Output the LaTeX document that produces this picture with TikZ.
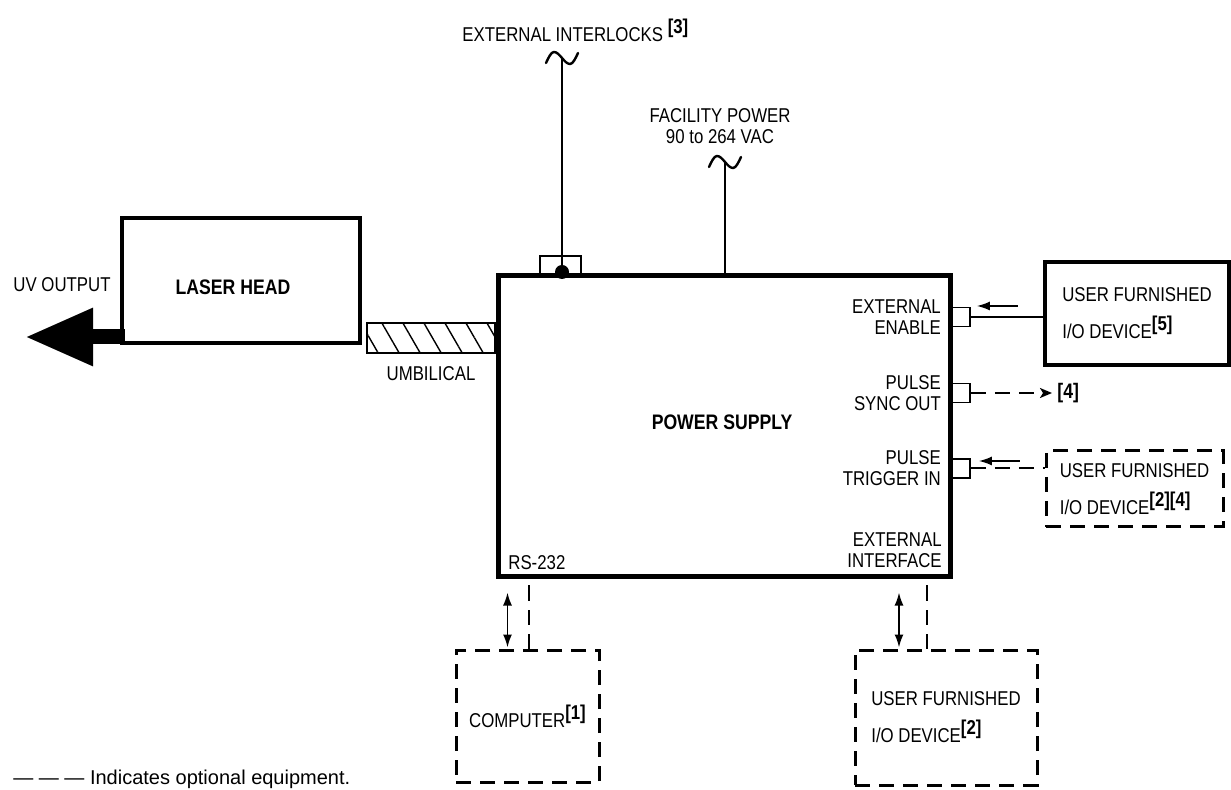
\documentclass[tikz,border=0pt]{standalone}
\usepackage{fontspec}
\setmainfont{Liberation Sans}[FakeStretch=0.84]
\newfontfamily\legendfont{Liberation Sans}
\usetikzlibrary{arrows,arrows.meta,positioning,calc,patterns.meta}
\newcommand\refmark[1]{\raisebox{4pt}{\bfseries[#1]}}
\newcommand\acmark[1]{\draw[acline, shift={(#1)}] (-16,5) sin (-8,-6) cos (0,0) sin (8,6) cos (16,-5);}

\begin{document}
\begin{tikzpicture}[x=0.5pt,y=-0.5pt,>={Latex[length=6.5pt,width=4.5pt]},font=\fontsize{10}{10.5}\selectfont]
        \tikzset{box/.style={draw, rectangle, line width=2pt, inner sep=0pt},
        psbox/.style={draw, rectangle, line width=2.5pt, inner sep=0pt},
        optbox/.style={draw, rectangle, line width=1.5pt, dash pattern=on 7.5pt off 4.5pt, align=left,
            font=\fontsize{10}{18.5}\selectfont},
        userbox/.style={draw, rectangle, line width=1.8pt, align=left, font=\fontsize{10}{18.5}\selectfont},
        port/.style={draw, rectangle, line width=0.8pt, minimum width=9pt, minimum height=9.5pt, inner sep=0pt},
        txt/.style={inner sep=0pt, align=right},
        btxt/.style={inner sep=0pt, font=\fontsize{10.5}{12}\selectfont\bfseries},
        wire/.style={line width=0.9pt},
        acline/.style={line width=1.2pt, line cap=round},
        optline/.style={line width=1pt, dash pattern=on 7.5pt off 4.5pt},
        }
        \useasboundingbox (0,0) rectangle (1231,790);

        %% laser head and umbilical
        \node [box, minimum width=119pt, minimum height=62.5pt] (head) at (241,280.5) {};
        \node [btxt] (headtxt) at (233,287) {LASER HEAD};
        \node [txt] (uvtxt) at (62,285) {UV OUTPUT};
        \coordinate (uvtip) at (25,337);
        \draw [line width=7.5pt, -{Triangle[length=34pt,width=27pt]}] ([xshift=2.5pt]head.west |- uvtip) -- (uvtip);
        \node [draw, line width=0.8pt, minimum width=64pt, minimum height=15pt, inner sep=0pt,
               pattern={Lines[angle=-60,distance=9.1pt,line width=0.7pt]}] (umb) at (431,338) {};
        \node [txt, below=6pt of umb] (umbtxt) {UMBILICAL};

        %% power supply
        \node [draw, line width=0.8pt, minimum width=20.5pt, minimum height=9.5pt, inner sep=0pt] (ilbox) at (560.5,265.5) {};
        \node [psbox, minimum width=226pt, minimum height=150.5pt] (ps) at (724,426.5) {};
        \node [circle, fill, inner sep=0pt, minimum size=7pt] (ildot) at (562,272) {};
        \node [btxt] (pstxt) at (722,422) {POWER SUPPLY};

        %% interlocks and facility power
        \coordinate (ilac) at (562,58);
        \draw [wire] (ildot) -- (ilac);
        \acmark{ilac}
        \node [txt, anchor=base west] (iltxt) at (462,42) {EXTERNAL INTERLOCKS \refmark{3}};
        \coordinate (fpac) at (725,162);
        \draw [wire] (ps.north -| fpac) -- (fpac);
        \acmark{fpac}
        \node [txt, align=center] (fptxt) at (720,126.5) {FACILITY POWER\\90 to 264 VAC};

        %% ports
        \node [port] (enport) at (961,317) {};
        \node [port] (syport) at (961,393) {};
        \node [port] (trport) at (961,468.5) {};
        \node [txt, left=5pt of enport] (entxt) {EXTERNAL\\ENABLE};
        \node [txt, left=5pt of syport] (sytxt) {PULSE\\SYNC OUT};
        \node [txt, left=5pt of trport] (trtxt) {PULSE\\TRIGGER IN};
        \node [txt, anchor=east] (eitxt) at (942,550.5) {EXTERNAL\\INTERFACE};
        \node [txt, anchor=west] (rstxt) at (508,563) {RS-232};

        %% outside equipment
        \node [userbox, minimum width=92pt, minimum height=51.5pt] (user5) at (1137,313.5) {USER FURNISHED\\I/O DEVICE\refmark{5}};
        \node [optbox, minimum width=88.5pt, minimum height=38pt] (user24) at (1134.5,489) {USER FURNISHED\\I/O DEVICE\refmark{2}\refmark{4}};
        \node [optbox, minimum width=71.5pt, minimum height=66pt] (comp) at (527.5,716) {COMPUTER\refmark{1}};
        \node [optbox, minimum width=91pt, minimum height=67.5pt] (user2) at (946,717.5) {USER FURNISHED\\I/O DEVICE\refmark{2}};
        \coordinate (sytip) at (1052,393);
        \node [btxt, right=2.5pt of sytip] (sytag) {[4]};

        %% paths
        \draw [wire] (enport.east) -- (enport.east -| user5.west);
        \draw [wire, ->] ($(enport.east)+(47,-11)$) -- ++(-41,0);
        \draw [optline, -{Stealth[length=6pt,width=5pt,inset=1.5pt]}] (syport.east) -- (sytip);
        \draw [optline] (trport.east) -- (trport.east -| user24.west);
        \draw [wire, ->] ($(trport.east)+(49,-7.5)$) -- ++(-41,0);
        \draw [wire, <->] ($(ps.south west)+(12,13)$) -- +(0,55);
        \draw [optline] (comp.north west) ++(74,0) -- ++(0,-73);
        \draw [wire, <->] ($(ps.south east)+(-53.5,13)$) -- +(0,55);
        \draw [optline] (user2.north west) ++(73,0) -- ++(0,-73);

        \node [txt, anchor=base west, font=\legendfont\fontsize{10}{12}\selectfont] (legend) at (13,784) {— — — Indicates optional equipment.};
\end{tikzpicture}
\end{document}
